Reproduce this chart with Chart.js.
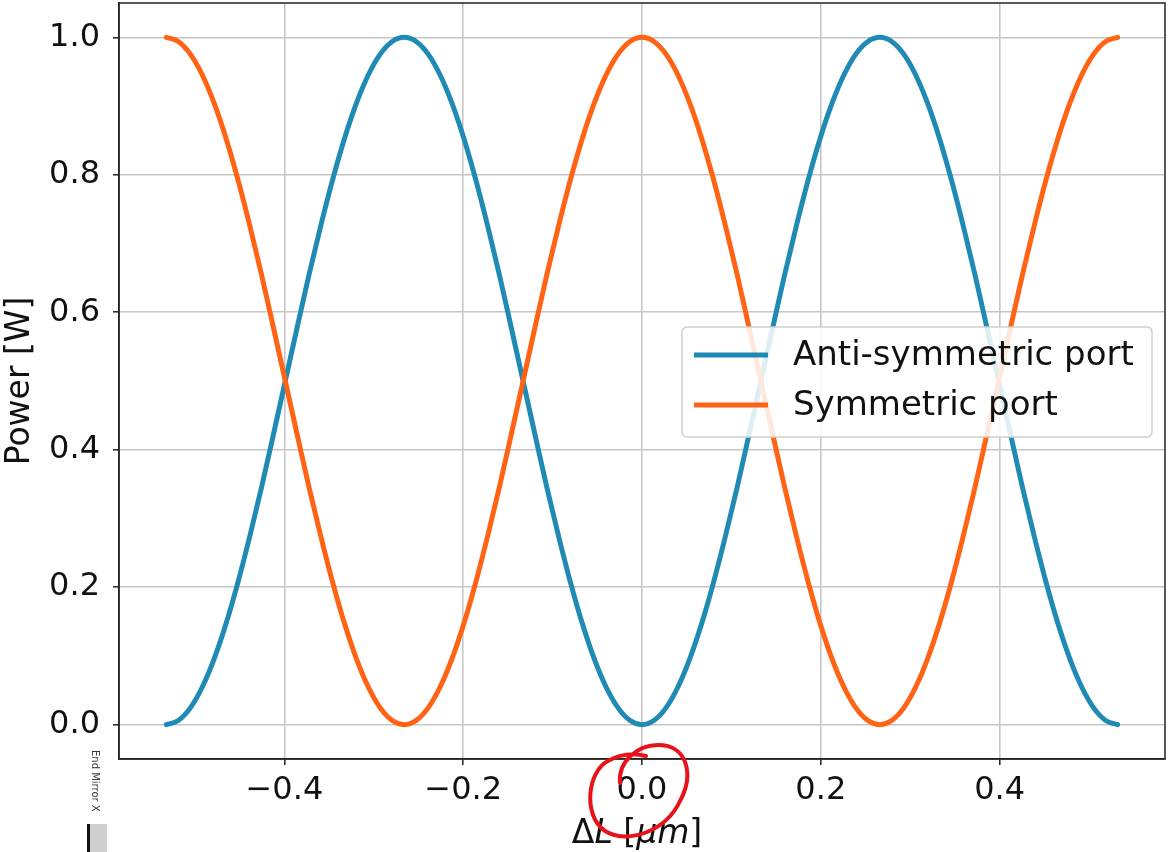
<!DOCTYPE html>
<html>
<head>
<meta charset="utf-8">
<title>Power vs ΔL</title>
<script src="https://cdn.jsdelivr.net/npm/chart.js@4/dist/chart.umd.min.js"></script>
<style>
  html, body { margin: 0; padding: 0; background: #fff; }
  canvas { display: block; }
</style>
</head>
<body>
<canvas id="chart" width="1169" height="852"></canvas>
<script>
// ΔL values along the x axis (µm)
const deltaL = [-0.5320, -0.5187, -0.5054, -0.4921, -0.4788, -0.4655, -0.4522, -0.4389, -0.4256, -0.4123,
                -0.3990, -0.3857, -0.3724, -0.3591, -0.3458, -0.3325, -0.3192, -0.3059, -0.2926, -0.2793,
                -0.2660, -0.2527, -0.2394, -0.2261, -0.2128, -0.1995, -0.1862, -0.1729, -0.1596, -0.1463,
                -0.1330, -0.1197, -0.1064, -0.0931, -0.0798, -0.0665, -0.0532, -0.0399, -0.0266, -0.0133,
                 0.0000,
                 0.0133,  0.0266,  0.0399,  0.0532,  0.0665,  0.0798,  0.0931,  0.1064,  0.1197,  0.1330,
                 0.1463,  0.1596,  0.1729,  0.1862,  0.1995,  0.2128,  0.2261,  0.2394,  0.2527,  0.2660,
                 0.2793,  0.2926,  0.3059,  0.3192,  0.3325,  0.3458,  0.3591,  0.3724,  0.3857,  0.3990,
                 0.4123,  0.4256,  0.4389,  0.4522,  0.4655,  0.4788,  0.4921,  0.5054,  0.5187,  0.5320];

// power (W)
const antiSymmetric = [0.000, 0.006, 0.024, 0.054, 0.095, 0.146, 0.206, 0.273, 0.345, 0.422,
                       0.500, 0.578, 0.655, 0.727, 0.794, 0.854, 0.905, 0.946, 0.976, 0.994,
                       1.000, 0.994, 0.976, 0.946, 0.905, 0.854, 0.794, 0.727, 0.655, 0.578,
                       0.500, 0.422, 0.345, 0.273, 0.206, 0.146, 0.095, 0.054, 0.024, 0.006,
                       0.000,
                       0.006, 0.024, 0.054, 0.095, 0.146, 0.206, 0.273, 0.345, 0.422, 0.500,
                       0.578, 0.655, 0.727, 0.794, 0.854, 0.905, 0.946, 0.976, 0.994, 1.000,
                       0.994, 0.976, 0.946, 0.905, 0.854, 0.794, 0.727, 0.655, 0.578, 0.500,
                       0.422, 0.345, 0.273, 0.206, 0.146, 0.095, 0.054, 0.024, 0.006, 0.000];
const symmetric = [1.000, 0.994, 0.976, 0.946, 0.905, 0.854, 0.794, 0.727, 0.655, 0.578,
                   0.500, 0.422, 0.345, 0.273, 0.206, 0.146, 0.095, 0.054, 0.024, 0.006,
                   0.000, 0.006, 0.024, 0.054, 0.095, 0.146, 0.206, 0.273, 0.345, 0.422,
                   0.500, 0.578, 0.655, 0.727, 0.794, 0.854, 0.905, 0.946, 0.976, 0.994,
                   1.000,
                   0.994, 0.976, 0.946, 0.905, 0.854, 0.794, 0.727, 0.655, 0.578, 0.500,
                   0.422, 0.345, 0.273, 0.206, 0.146, 0.095, 0.054, 0.024, 0.006, 0.000,
                   0.006, 0.024, 0.054, 0.095, 0.146, 0.206, 0.273, 0.345, 0.422, 0.500,
                   0.578, 0.655, 0.727, 0.794, 0.854, 0.905, 0.946, 0.976, 0.994, 1.000];

const seriesLabels = ['Anti-symmetric port', 'Symmetric port'];
const xTicks = [-0.4, -0.2, 0.0, 0.2, 0.4];
const yTicks = [0.0, 0.2, 0.4, 0.6, 0.8, 1.0];

const BLUE = '#1f8ab4';
const ORANGE = '#ff6313';
const FONT = 'DejaVu Sans, Verdana, sans-serif';

const toPoints = (ys) => ys.map((y, i) => ({ x: deltaL[i], y: y }));
const fmt = (v) => v.toFixed(1).replace('-', '\u2212');

// x label pieces: mathtext style, L and μm in italics
const xLabelParts = [['Δ', ''], ['L', 'italic '], [' [', ''], ['μm', 'italic '], [']', '']];

// top + right spines, legend inside plot, x label and the screen-capture bits
const decorPlugin = {
    id: 'decor',
    afterDraw(chart) {
        const { ctx, chartArea: a } = chart;
        ctx.save();
        ctx.strokeStyle = '#222';
        ctx.lineWidth = 1.5;
        ctx.strokeRect(a.left, a.top, a.right - a.left, a.bottom - a.top);

        // legend, centre right
        const w = 470, h = 110;
        const lx = a.right - 13 - w;
        const ly = (a.top + a.bottom) / 2 - h / 2 + 1;
        ctx.beginPath();
        ctx.roundRect(lx, ly, w, h, 5);
        ctx.fillStyle = 'rgba(255,255,255,0.85)';
        ctx.fill();
        ctx.strokeStyle = '#cfcfcf';
        ctx.lineWidth = 1.5;
        ctx.stroke();
        ctx.font = '34px ' + FONT;
        ctx.textBaseline = 'middle';
        chart.data.datasets.forEach((ds, i) => {
            const ry = ly + 28 + i * 50;
            ctx.beginPath();
            ctx.moveTo(lx + 12, ry);
            ctx.lineTo(lx + 86, ry);
            ctx.strokeStyle = ds.borderColor;
            ctx.lineWidth = 5;
            ctx.lineCap = 'butt';
            ctx.stroke();
            ctx.fillStyle = '#111';
            ctx.fillText(ds.label, lx + 111, ry + 1);
        });

        // x axis label
        ctx.textBaseline = 'alphabetic';
        ctx.fillStyle = '#111';
        const widths = xLabelParts.map(([t, st]) => { ctx.font = st + '33px ' + FONT; return ctx.measureText(t).width; });
        let tx = (a.left + a.right) / 2 - 5 - widths.reduce((s, v) => s + v, 0) / 2;
        xLabelParts.forEach(([t, st], i) => {
            ctx.font = st + '33px ' + FONT;
            ctx.fillText(t, tx, 843);
            tx += widths[i];
        });

        // red hand-drawn loop round the 0.0 tick label
        const zx = chart.scales.x.getPixelForValue(0);
        const zy = a.bottom;
        ctx.beginPath();
        ctx.moveTo(zx - 22, zy + 24);
        ctx.bezierCurveTo(zx - 24, zy + 2, zx - 4, zy - 14, zx + 16, zy - 14);
        ctx.bezierCurveTo(zx + 46, zy - 14, zx + 52, zy + 16, zx + 38, zy + 42);
        ctx.bezierCurveTo(zx + 24, zy + 72, zx - 14, zy + 86, zx - 37, zy + 72);
        ctx.bezierCurveTo(zx - 60, zy + 56, zx - 54, zy + 12, zx - 34, zy + 2);
        ctx.quadraticCurveTo(zx - 16, zy - 8, zx + 4, zy - 3);
        ctx.strokeStyle = '#e8121a';
        ctx.lineWidth = 4;
        ctx.lineCap = 'round';
        ctx.stroke();

        // bits of the surrounding app visible in the capture
        ctx.fillStyle = '#cfcfcf';
        ctx.fillRect(88, 824, 19, 30);
        ctx.fillStyle = '#111';
        ctx.fillRect(87, 824, 3, 30);
        ctx.translate(95, 750);
        ctx.rotate(Math.PI / 2);
        ctx.font = '10px ' + FONT;
        ctx.fillStyle = '#333';
        ctx.textBaseline = 'middle';
        ctx.fillText('End Mirror X', 0, 0);
        ctx.restore();
    }
};

const lineStyle = { borderWidth: 5, cubicInterpolationMode: 'monotone', borderCapStyle: 'round', borderJoinStyle: 'round', fill: false, pointRadius: 0, pointHoverRadius: 0 };

new Chart(document.getElementById('chart'), {
    type: 'line',
    data: {
        datasets: [
            { ...lineStyle, label: seriesLabels[0], data: toPoints(antiSymmetric), borderColor: BLUE, order: 1 },
            { ...lineStyle, label: seriesLabels[1], data: toPoints(symmetric), borderColor: ORANGE, order: 0 }
        ]
    },
    options: {
        responsive: false,
        animation: false,
        devicePixelRatio: 1,
        layout: { padding: { top: 3, right: 4, left: 0, bottom: 0 } },
        plugins: { legend: { display: false }, tooltip: { enabled: false } },
        scales: {
            x: {
                type: 'linear',
                min: -0.585,
                max: 0.585,
                afterFit: (s) => { s.height = 93; s.paddingLeft = 0; s.paddingRight = 0; },
                afterBuildTicks: (s) => { s.ticks = xTicks.map(v => ({ value: v })); },
                ticks: { font: { family: FONT, size: 32 }, color: '#111', padding: 6, maxRotation: 0, callback: fmt },
                grid: { color: '#c6c6c6', lineWidth: 1.6, tickLength: 6, tickColor: '#222', tickWidth: 1.5 },
                border: { display: true, color: '#222', width: 1.5 },
                title: { display: false }
            },
            y: {
                type: 'linear',
                min: -0.05,
                max: 1.05,
                afterFit: (s) => { s.width = 119; s.paddingTop = 0; s.paddingBottom = 0; },
                afterBuildTicks: (s) => { s.ticks = yTicks.map(v => ({ value: v })); },
                ticks: { font: { family: FONT, size: 32 }, color: '#111', padding: 13, callback: fmt },
                grid: { color: '#c6c6c6', lineWidth: 1.6, tickLength: 6, tickColor: '#222', tickWidth: 1.5 },
                border: { display: true, color: '#222', width: 1.5 },
                title: { display: true, text: 'Power [W]', font: { family: FONT, size: 33, lineHeight: 1 }, color: '#111', padding: { top: 4, bottom: 0 } }
            }
        }
    },
    plugins: [decorPlugin]
});
</script>
</body>
</html>
